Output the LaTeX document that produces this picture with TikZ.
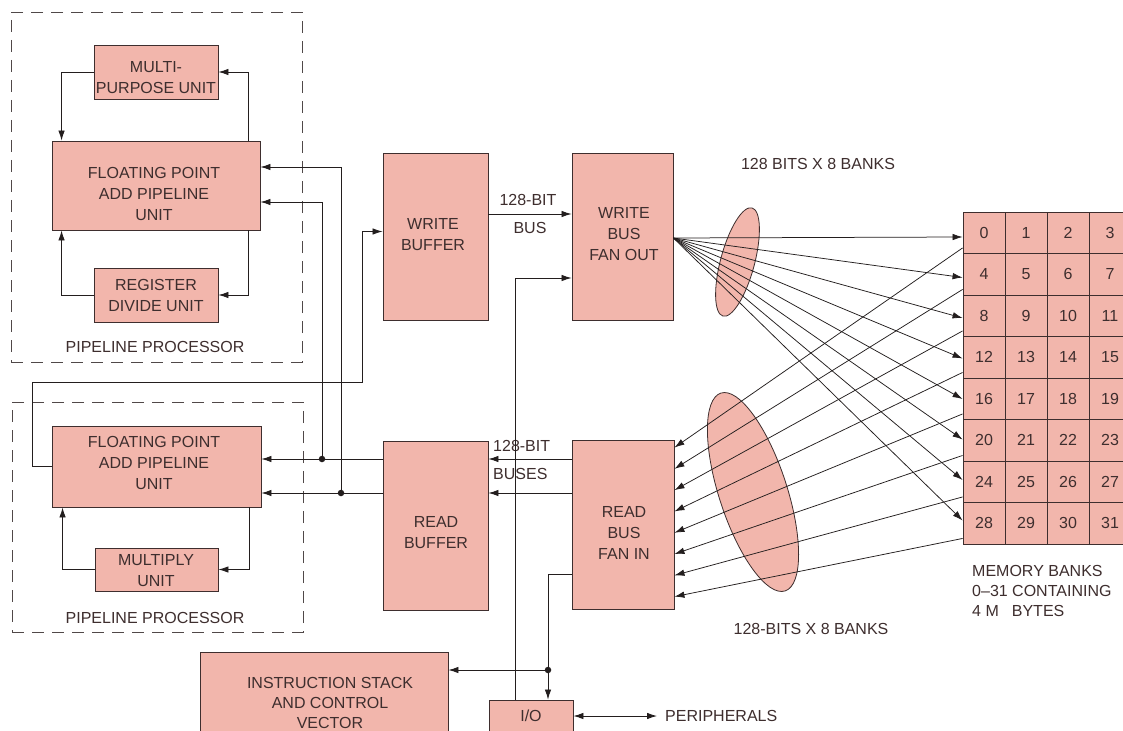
\documentclass[tikz,border=0pt]{standalone}
\usepackage{fontspec}
\setmainfont{Liberation Sans}
\usetikzlibrary{arrows.meta,calc,shapes.geometric}
\definecolor{pinkfill}{RGB}{242,182,172}
\definecolor{ink}{RGB}{62,46,46}
\definecolor{wirec}{RGB}{35,30,30}
\definecolor{dashc}{RGB}{80,72,72}
\newcommand\bx[5]{\node[box, minimum width={(#4-#2)*1pt}, minimum height={(#5-#3)*1pt}] (#1) at ({(#2+#4)/2},{(#3+#5)/2}) {};}
\begin{document}
\begin{tikzpicture}[x=1pt,y=-1pt,
  box/.style={draw=ink, line width=0.9pt, fill=pinkfill, inner sep=0pt},
  frame/.style={draw=dashc, line width=0.7pt, dash pattern=on 12pt off 8pt, inner sep=0pt},
  lbl/.style={text=ink, font=\fontsize{16}{21}\selectfont, align=center, inner sep=0pt},
  lbll/.style={text=ink, font=\fontsize{16}{20}\selectfont, align=left, inner sep=0pt, anchor=west},
  wire/.style={draw=wirec, line width=0.85pt},
  arr/.style={wire, -{Latex[length=10pt,width=6.5pt]}},
  darr/.style={wire, {Latex[length=10pt,width=6.5pt]}-{Latex[length=10pt,width=6.5pt]}},
  fan/.style={draw=wirec, line width=0.75pt, -{Latex[length=10pt,width=6.5pt]}},
  dot/.style={circle, fill=wirec, inner sep=0pt, minimum size=6.5pt},
  cell/.style={draw=ink, line width=0.9pt, fill=pinkfill, minimum width=42pt, minimum height=41.5pt, inner sep=0pt, text=ink, font=\fontsize{16}{20}\selectfont}
]
\useasboundingbox (0,0) rectangle (1123,730);
\fill[white] (0,0) rectangle (1123,730);
\clip (0,0) rectangle (1123,730);

% dashed frames
\node[frame, minimum width=291pt, minimum height=350pt] (pp1) at (156.5,187) {};
\node[frame, minimum width=291pt, minimum height=230pt] (pp2) at (157.5,517) {};

% boxes
\bx{mpu}{94}{45}{218}{99}
\bx{fpa1}{52}{141}{260}{230}
\bx{rdu}{94}{268}{218}{322}
\bx{fpa2}{52}{426}{261}{507}
\bx{mul}{95}{548}{218}{591}
\bx{wbuf}{383}{153}{488}{320}
\bx{wfan}{572}{153}{673}{320}
\bx{rbuf}{383}{441}{488}{610}
\bx{rfan}{572}{440}{674}{609}
\bx{isc}{200}{652}{448}{735}
\bx{io}{489}{700}{573}{733}

% texts
\node[lbl] (tmpu) at (156,78) {MULTI-\\PURPOSE UNIT};
\node[lbl] (tfpa1) at (154,194) {FLOATING POINT\\ADD PIPELINE\\UNIT};
\node[lbl] (trdu) at (156,295) {REGISTER\\DIVIDE UNIT};
\node[lbl] (tpp1) at (155,347) {PIPELINE PROCESSOR};
\node[lbl] (tfpa2) at (154,463) {FLOATING POINT\\ADD PIPELINE\\UNIT};
\node[lbl] (tmul) at (156,571) {MULTIPLY\\UNIT};
\node[lbl] (tpp2) at (155,618) {PIPELINE PROCESSOR};
\node[lbl] (twbuf) at (433,235) {WRITE\\BUFFER};
\node[lbl] (twfan) at (624,234) {WRITE\\BUS\\FAN OUT};
\node[lbl] (trbuf) at (436,533) {READ\\BUFFER};
\node[lbl] (trfan) at (624,533) {READ\\BUS\\FAN IN};
\node[lbl] (tbus1) at (528,200) {128-BIT};
\node[lbl] (tbus2) at (530,228) {BUS};
\node[lbll] (tbus3) at (493,446) {128-BIT};
\node[lbll] (tbus4) at (493,474) {BUSES};
\node[lbl, font=\fontsize{16}{20}\selectfont] (tisc) at (330,703) {INSTRUCTION STACK\\AND CONTROL\\VECTOR};
\node[lbl] (tio) at (531,716) {I/O};
\node[lbll] (perip) at (665,716) {PERIPHERALS};
\node[lbl] (tbits1) at (818,164) {128 BITS X 8 BANKS};
\node[lbl] (tbits2) at (811,629) {128-BITS X 8 BANKS};
\node[lbll] (tmem) at (972,591) {MEMORY BANKS\\0–31 CONTAINING\\4 M\hspace{13pt}BYTES};

% ellipses
\node[ellipse, draw=ink, line width=0.8pt, fill=pinkfill, minimum width=34pt, minimum height=112pt, rotate=-15, inner sep=0pt] (e1) at (737.5,262) {};
\node[ellipse, draw=ink, line width=0.8pt, fill=pinkfill, minimum width=68pt, minimum height=208pt, rotate=18, inner sep=0pt] (e2) at (753,492) {};

% memory grid
\foreach \r in {0,...,7} {
  \foreach \c in {0,...,3} {
    \pgfmathtruncatemacro\n{\r*4+\c}
    \node[cell] (c\n) at ({984+42*\c},{232.75+41.5*\r}) {\raisebox{-3pt}{\n}};
  }
}

% pipeline loops (upper)
\draw[arr] (mpu.west) -| ($(fpa1.north west)+(10,0)$);
\draw[arr] ($(fpa1.north east)+(-12,0)$) |- (mpu.east);
\draw[arr] (rdu.west) -| ($(fpa1.south west)+(10,0)$);
\draw[arr] ($(fpa1.south east)+(-12,0)$) |- (rdu.east);
% pipeline loop (lower)
\draw[arr] (mul.west) -| ($(fpa2.south west)+(11,0)$);
\draw[arr] ($(fpa2.south east)+(-12,0)$) |- (mul.east);

% lower FP unit to write buffer
\draw[arr] (fpa2.west) -- ++(-19,0) |- (362,382) |- ($(wbuf.west)+(0,-5)$);

% read buffer to FP units
\node[dot] (d1) at (322,459) {};
\node[dot] (d2) at (341,493) {};
\draw[arr] (rbuf.west |- 0,459) -- (fpa2.east |- 0,459);
\draw[arr] (rbuf.west |- 0,493) -- (fpa2.east |- 0,493);
\draw[arr] (d1.center) |- (fpa1.east |- 0,202);
\draw[arr] (d2.center) |- (fpa1.east |- 0,167);

% buses
\draw[arr] (wbuf.east |- 0,214) -- (wfan.west |- 0,214);
\draw[arr] (rfan.west |- 0,459) -- (rbuf.east |- 0,459);
\draw[arr] (rfan.west |- 0,493) -- (rbuf.east |- 0,493);

% I/O connections
\draw[arr] (io.north -| 515,0) |- (wfan.west |- 0,278);
\node[dot] (d3) at (548,670) {};
\draw[arr] (rfan.west |- 0,574) -| (io.north -| 548,0);
\draw[arr] (d3.center) -- (isc.east |- 0,670);
\draw[darr] (io.east |- 0,716) -- ($(perip.west)+(-8,0)$);

% fan out / fan in
\foreach \r in {0,...,7} {
  \pgfmathtruncatemacro\n{\r*4}
  \draw[fan] (wfan.east |- 0,238) -- (c\n.west |- 0,{237+40.5*\r});
  \draw[fan] ($(c\n.south west)+(0,-6)$) -- ($(rfan.north east)+(0,{8+21.3*\r})$);
}
\end{tikzpicture}
\end{document}
